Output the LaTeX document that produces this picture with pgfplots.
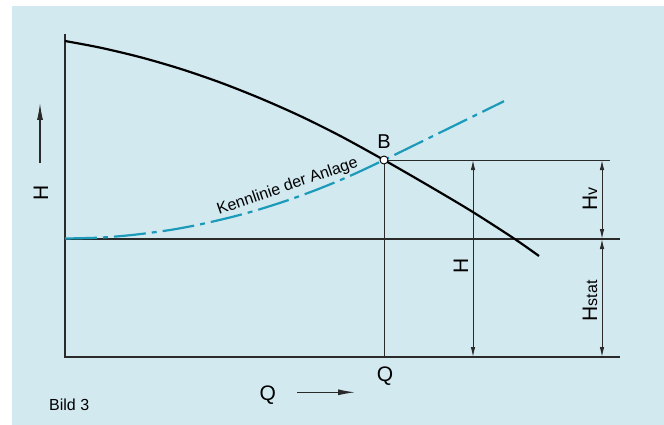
\documentclass[border=0pt]{standalone}
\usepackage{fontspec}
\setmainfont{Liberation Sans}
\usepackage{pgfplots}
\pgfplotsset{compat=1.18}
\usetikzlibrary{arrows.meta}

\definecolor{bgblue}{HTML}{D3E9F0}
\definecolor{anlage}{HTML}{1B9AB9}
\definecolor{ink}{HTML}{2A2A2A}
\newcommand{\fs}[1]{\fontsize{#1bp}{#1bp}\selectfont}

\begin{document}
\begin{tikzpicture}
\begin{axis}[
   width=664bp, height=425bp, scale only axis,
   xmin=0, xmax=664, ymin=0, ymax=425,
   y dir=reverse,
   hide axis, clip=false,
   ]
% background
\fill[white] (0,0) rectangle (664,425);
\fill[bgblue] (12,6) rectangle (664,425);

% axes and guide lines
\draw[ink, line width=1.2bp] (65,34) -- (65,357) -- (620,357);
\draw[ink, line width=1.2bp] (65,239) -- (620,239);
\draw[ink, line width=1bp] (384,160) -- (610,160);
\draw[ink, line width=1bp] (384,160) -- (384,357);

% dimension arrows
\draw[ink, line width=1bp, {Latex[length=10bp,width=4.5bp]}-{Latex[length=10bp,width=4.5bp]}] (473,160) -- (473,357);
\draw[ink, line width=1bp, {Latex[length=10bp,width=4.5bp]}-{Latex[length=10bp,width=4.5bp]}] (602,160) -- (602,239);
\draw[ink, line width=1bp, {Latex[length=10bp,width=4.5bp]}-{Latex[length=10bp,width=4.5bp]}] (602,239) -- (602,357);

% axis arrows
\draw[ink, line width=1.1bp, -{Latex[length=17bp,width=6bp]}] (40,163) -- (40,103);
\draw[ink, line width=1.1bp, -{Latex[length=17bp,width=6bp]}] (297,392.3) -- (355,392.3);

% pump curve
\addplot[black, line width=2.2bp, smooth, no marks] coordinates {
  (65,41) (100,47.6) (140,57.1) (180,68.7) (220,82.4) (260,98.2)
  (300,115.9) (340,135.8) (384,160) (430,186.5) (472,211.5)
  (514,238.5) (539,256)
};

% system curve (Kennlinie der Anlage)
\addplot[anlage, line width=2.2bp, smooth, no marks,
   dash pattern=on 32bp off 6bp on 5bp off 6bp] coordinates {
  (65,238.5) (100,237.6) (133,234.9) (170,230) (200,224.4) (233,216.7)
  (260,209.2) (290,199.5) (320,188.4) (350,175.9) (384,160)
  (430,137.5) (470,117.9) (504,101.2)
};

% operating point B
\addplot[only marks, mark=*, mark size=4bp,
   mark options={fill=white, draw=black, line width=0.9bp}] coordinates {(384,160)};

% labels
\node[rotate=19, anchor=base, font=\fs{16}] at (289,190.5) {Kennlinie der Anlage};
\node[rotate=90, anchor=base, font=\fs{21}] at (48,192.5) {H};
\node[rotate=90, anchor=base, font=\fs{21}] at (468,266) {H};
\node[rotate=90, anchor=base, font=\fs{21}] at (597,199) {H{\fs{16}v}};
\node[rotate=90, anchor=base, font=\fs{21}] at (597,301) {H{\fs{16}stat}};
\node[anchor=base, font=\fs{20}] at (384,148.3) {B};
\node[anchor=base, font=\fs{21}] at (385,381) {Q};
\node[anchor=base, font=\fs{21}] at (267.7,400.5) {Q};
\node[anchor=base west, font=\fs{16}, inner sep=0pt] at (49,410) {Bild 3};
\end{axis}
\end{tikzpicture}
\end{document}
